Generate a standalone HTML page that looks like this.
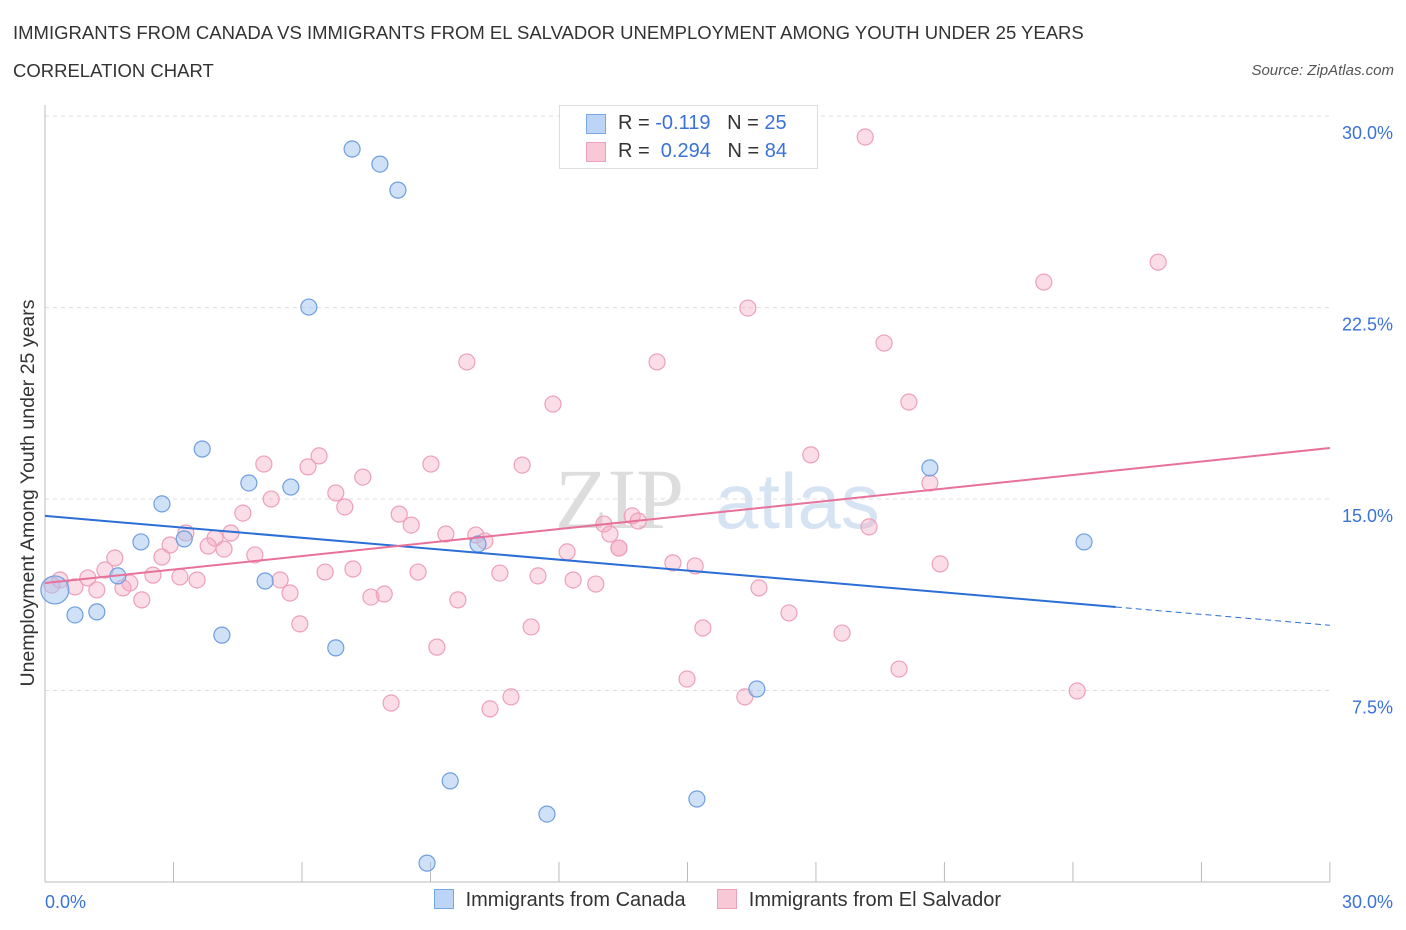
<!DOCTYPE html>
<html><head><meta charset="utf-8">
<style>
body{margin:0;background:#fff;font-family:"Liberation Sans",sans-serif;}
#wrap{position:relative;width:1406px;height:930px;overflow:hidden;}
.title{position:absolute;left:13px;font-size:18.5px;color:#333;letter-spacing:0px}
</style></head><body>
<div id="wrap">
<div class="title" style="top:22px">IMMIGRANTS FROM CANADA VS IMMIGRANTS FROM EL SALVADOR UNEMPLOYMENT AMONG YOUTH UNDER 25 YEARS</div>
<div class="title" style="top:60px">CORRELATION CHART</div>
<div style="position:absolute;right:12px;top:62px;font-size:15px;color:#555;font-style:italic">Source: ZipAtlas.com</div>
<svg id="chart" width="1406" height="930" style="position:absolute;left:0;top:0"></svg>
</div>
<script>
const canadaX=[7.17,7.82,8.24,6.16,3.67,2.73,4.76,5.74,2.24,3.25,1.70,1.21,0.70,0.23,5.14,4.13,6.79,10.11,20.66,24.26,16.62,9.46,15.22,11.72,8.92];
const canadaY=[28.71,28.12,27.1,22.52,16.96,14.81,15.63,15.47,13.32,13.44,11.99,10.58,10.46,11.44,11.79,9.67,9.17,13.24,16.22,13.32,7.56,3.96,3.25,2.66,0.74];
const salvX=[19.15,25.99,23.32,16.41,19.59,9.85,14.29,20.17,11.86,5.11,6.40,6.14,9.01,11.14,17.88,7.42,5.28,6.79,7.00,4.62,8.27,8.55,20.66,13.05,13.71,13.85,9.36,10.06,13.19,10.27,19.24,4.34,3.97,3.29,2.92,3.81,4.18,2.73,4.90,1.63,1.40,2.52,3.15,3.55,1.98,1.00,0.70,0.35,0.16,1.82,1.21,2.26,6.54,7.19,8.71,10.62,11.51,12.19,12.33,12.86,13.40,14.66,15.18,5.49,5.72,7.61,7.92,9.64,16.67,17.37,20.90,5.95,11.35,15.36,18.61,9.15,8.08,10.39,10.88,14.99,16.34,19.94,24.10,13.40];
const salvY=[29.18,24.28,23.50,22.48,21.11,20.37,20.37,18.80,18.72,16.37,16.69,16.26,16.37,16.33,16.73,15.86,15.00,15.24,14.69,14.45,14.41,13.98,15.63,14.02,14.34,14.14,13.63,13.59,13.63,13.36,13.91,13.67,13.47,13.67,13.20,13.16,13.04,12.73,12.81,12.69,12.22,12.02,11.95,11.83,11.71,11.91,11.56,11.83,11.63,11.52,11.44,11.05,12.14,12.26,12.14,12.10,11.99,12.93,11.83,11.67,13.08,12.50,12.38,11.83,11.32,11.16,11.28,11.05,11.52,10.54,12.46,10.11,9.99,9.95,9.75,9.20,7.01,6.78,7.25,7.95,7.25,8.34,7.48,13.08];
const yTicks=[7.5,15,22.5,30];
const yTickLabels=["7.5%","15.0%","22.5%","30.0%"];
const canadaTrend=[14.34,-0.1428]; // intercept, slope
const salvTrend=[11.71,0.1763];

const X=v=>45+v*42.83, Y=v=>882-v*25.53;
const svg=document.getElementById('chart');
const NS='http://www.w3.org/2000/svg';
function mk(t,a,p){const e=document.createElementNS(NS,t);for(const k in a)e.setAttribute(k,a[k]);(p||svg).appendChild(e);return e;}

let wm=mk('text',{x:555,y:528,'font-size':86,'font-family':'Liberation Serif,serif',fill:'#ddd'});wm.textContent='ZIP';


let wm2=mk('text',{x:715,y:528,'font-size':78,'font-family':'Liberation Sans,sans-serif',fill:'#d6e3f3'});wm2.textContent='atlas';



yTicks.forEach((t,i)=>{
 const g=mk('line',{x1:45,x2:1330,y1:Y(t),y2:Y(t),stroke:'#ddd','stroke-dasharray':'4,4'});
 
 
 const l=mk('text',{x:1393,y:Y(t)+23,'text-anchor':'end','font-size':18,fill:'#3a72d8'});
 l.textContent=yTickLabels[i];
 
 
});
let ax=mk('line',{x1:45,x2:1330,y1:882,y2:882,stroke:'#bbb'});


let ay=mk('line',{x1:45,x2:45,y1:105,y2:882,stroke:'#bbb'});


for(let i=0;i<=10;i++){const t=mk('line',{x1:X(i*3),x2:X(i*3),y1:862,y2:882,stroke:'#bbb'});
 
 }
[[0,'0.0%','start',45],[30,'30.0%','end',1393]].forEach(d=>{const t=mk('text',{x:d[3],y:908,'text-anchor':d[2],'font-size':18,fill:'#3a72d8'});t.textContent=d[1];
 
 });
let yt=mk('text',{x:34,y:493,'text-anchor':'middle','font-size':19.5,fill:'#333',transform:'rotate(-90 34 493)'});
yt.textContent='Unemployment Among Youth under 25 years';



salvX.forEach((x,i)=>{const c=mk('circle',{cx:X(x),cy:Y(salvY[i]),r:8,fill:'rgba(244,170,195,0.4)',stroke:'#eda0b8','stroke-width':1.2});
 
 });
canadaX.forEach((x,i)=>{const c=mk('circle',{cx:X(x),cy:Y(canadaY[i]),r:(i==13?14:8),fill:'rgba(160,195,240,0.5)',stroke:'#6f9ee0','stroke-width':1.2});
 
 });

let bl=mk('line',{x1:X(0),y1:Y(canadaTrend[0]),x2:X(25),y2:Y(canadaTrend[0]+25*canadaTrend[1]),stroke:'#2b6fd6','stroke-width':2});


let bd=mk('line',{x1:X(25),y1:Y(canadaTrend[0]+25*canadaTrend[1]),x2:X(30),y2:Y(canadaTrend[0]+30*canadaTrend[1]),stroke:'#2b6fd6','stroke-width':1,'stroke-dasharray':'6,4'});


let pl=mk('line',{x1:X(0),y1:Y(salvTrend[0]),x2:X(30),y2:Y(salvTrend[0]+30*salvTrend[1]),stroke:'#e8719a','stroke-width':2});


</script>
<div style="position:absolute;left:559px;top:105px;width:257px;height:62px;border:1px solid #ddd;background:#fff;font-size:20px;color:#333">
 <div style="position:absolute;left:26px;top:8px;width:18px;height:18px;background:#bcd4f5;border:1px solid #7aa6e0"></div>
 <div style="position:absolute;left:58px;top:6px">R = <span style="color:#3a72d8">-0.119</span>&nbsp;&nbsp;&nbsp;N = <span style="color:#3a72d8">25</span></div>
 <div style="position:absolute;left:26px;top:36px;width:18px;height:18px;background:#f8c8d7;border:1px solid #eda0b8"></div>
 <div style="position:absolute;left:58px;top:34px">R = &nbsp;<span style="color:#3a72d8">0.294</span>&nbsp;&nbsp;&nbsp;N = <span style="color:#3a72d8">84</span></div>
</div>
<div style="position:absolute;left:434px;top:889px;font-size:20px;color:#333;white-space:nowrap">
 <span style="display:inline-block;width:18px;height:18px;background:#bcd4f5;border:1px solid #7aa6e0;vertical-align:-3px"></span>
 <span style="margin-left:6px">Immigrants from Canada</span>
 <span style="display:inline-block;width:18px;height:18px;background:#f8c8d7;border:1px solid #eda0b8;vertical-align:-3px;margin-left:26px"></span>
 <span style="margin-left:6px">Immigrants from El Salvador</span>
</div>
</body></html>
